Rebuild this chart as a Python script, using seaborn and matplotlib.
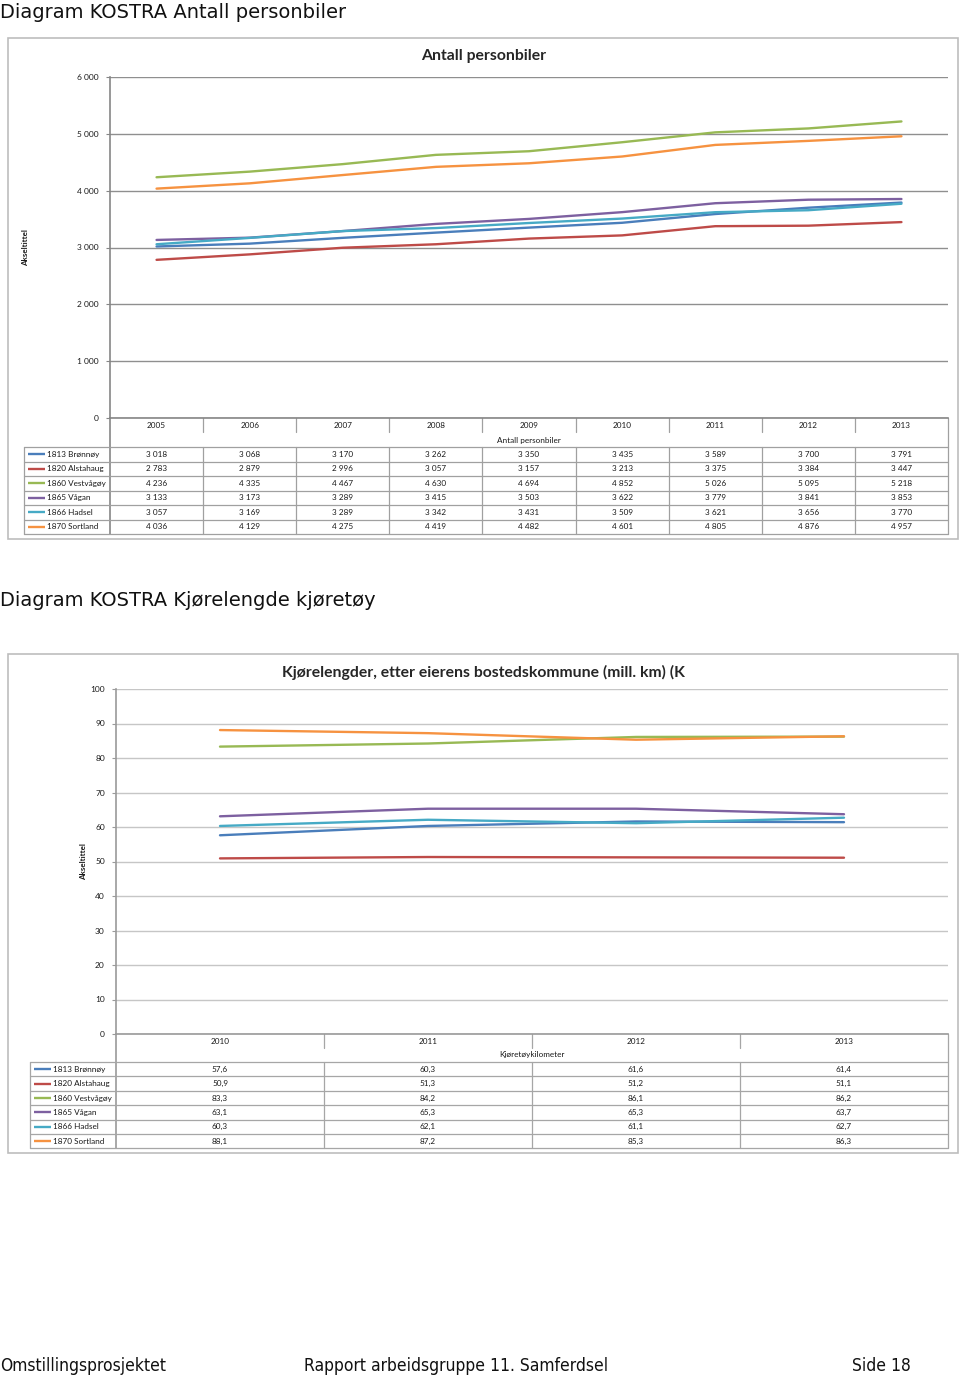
import numpy as np
import pandas as pd
import matplotlib
matplotlib.use("Agg")
import matplotlib.pyplot as plt
import seaborn as sns
from matplotlib import transforms, font_manager
from matplotlib.patches import Rectangle

# ---------------- data ----------------
series_names = ["1813 Brønnøy", "1820 Alstahaug", "1860 Vestvågøy",
                "1865 Vågan", "1866 Hadsel", "1870 Sortland"]
series_colors = ["#4A7EBB", "#BE4B48", "#98B954", "#7D60A0", "#46AAC5", "#F69240"]

years1 = ["2005", "2006", "2007", "2008", "2009", "2010", "2011", "2012", "2013"]
bronnoy1 = [3018, 3068, 3170, 3262, 3350, 3435, 3589, 3700, 3791]
alstahaug1 = [2783, 2879, 2996, 3057, 3157, 3213, 3375, 3384, 3447]
vestvagoy1 = [4236, 4335, 4467, 4630, 4694, 4852, 5026, 5095, 5218]
vagan1 = [3133, 3173, 3289, 3415, 3503, 3622, 3779, 3841, 3853]
hadsel1 = [3057, 3169, 3289, 3342, 3431, 3509, 3621, 3656, 3770]
sortland1 = [4036, 4129, 4275, 4419, 4482, 4601, 4805, 4876, 4957]

years2 = ["2010", "2011", "2012", "2013"]
bronnoy2 = [57.6, 60.3, 61.6, 61.4]
alstahaug2 = [50.9, 51.3, 51.2, 51.1]
vestvagoy2 = [83.3, 84.2, 86.1, 86.2]
vagan2 = [63.1, 65.3, 65.3, 63.7]
hadsel2 = [60.3, 62.1, 61.1, 62.7]
sortland2 = [88.1, 87.2, 85.3, 86.3]

yticks1 = [0, 1000, 2000, 3000, 4000, 5000, 6000]
yticks2 = [0, 10, 20, 30, 40, 50, 60, 70, 80, 90, 100]

# ---------------- page ----------------
sns.set_style("white")
plt.rcParams["font.family"] = ["DejaVu Sans"]

W, H = 960, 1376
fig = plt.figure(figsize=(9.6, 13.76), dpi=100)
fig.patch.set_facecolor("white")
ov = fig.add_axes([0, 0, 1, 1])
ov.set_xlim(0, W)
ov.set_ylim(H, 0)
ov.axis("off")

SMALL = ["Lato", "DejaVu Sans"]
TXT = "#1a1a1a"


def add_ax(l, t, r, b):
    return fig.add_axes([l / W, 1 - b / H, (r - l) / W, (b - t) / H])


def fmt_thousands(v):
    return f"{int(v):,}".replace(",", " ")


def fmt_comma(v):
    return f"{v:.1f}".replace(".", ",")


def draw_chart(frame, plot, title, title_xy, ylabel_x, cats, values, yticks,
               fmt, axis_title, header_y, axis_title_y, rows_top, row_h,
               leg_left, grid_color, spine_color, tbl_color):
    fl, ft, fr, fb = frame
    ov.add_patch(Rectangle((fl, ft), fr - fl, fb - ft, fill=False,
                           ec="#bdbdbd", lw=1.2))
    pl, pt, pr, pb = plot
    ax = add_ax(pl, pt, pr, pb)
    ax.set_facecolor("none")
    n = len(cats)
    rows = []
    for name, vals in zip(series_names, values):
        for i, v in enumerate(vals):
            rows.append({"series": name, "idx": i, "value": v})
    df = pd.DataFrame(rows)
    sns.lineplot(data=df, x="idx", y="value", hue="series",
                 hue_order=series_names, palette=series_colors,
                 estimator=None, sort=False, lw=1.7, legend=False, ax=ax)
    ax.set_xlim(-0.5, n - 0.5)
    ax.set_ylim(yticks[0], yticks[-1])
    ax.set_yticks(yticks)
    ax.set_yticklabels([fmt_thousands(t) if fmt is fmt_thousands else str(t)
                        for t in yticks], fontsize=6.0, family=SMALL, color=TXT)
    ax.set_xticks([])
    ax.set_xlabel("")
    ax.set_ylabel("")
    ax.grid(axis="y", color=grid_color, lw=1.0)
    ax.set_axisbelow(True)
    for s in ["top", "right"]:
        ax.spines[s].set_visible(False)
    for s in ["left", "bottom"]:
        ax.spines[s].set_color(spine_color)
        ax.spines[s].set_linewidth(1.2)
    ax.tick_params(axis="y", length=3, width=0.8, color=spine_color, pad=5,
                   left=True)

    # title and axis title
    ov.text(title_xy[0], title_xy[1], title, ha="center", va="center",
            fontsize=11.3, fontweight="bold", family=["Lato", "DejaVu Sans"],
            color="#262626")
    ov.text(ylabel_x, (pt + pb) / 2, "Akseltittel", rotation=90, ha="center",
            va="center", fontsize=5.8, fontweight="bold", family=SMALL, color=TXT)

    # data table
    bt = transforms.blended_transform_factory(ax.transData, ov.transData)
    rows_bot = rows_top + row_h * len(series_names)
    for i, c in enumerate(cats):
        ov.text(i, header_y, c, transform=bt, ha="center", va="center",
                fontsize=5.9, family=SMALL, color=TXT)
    for i in range(1, n):
        ov.plot([i - 0.5, i - 0.5], [pb, pb + 14], transform=bt,
                color=tbl_color, lw=0.9)
        ov.plot([i - 0.5, i - 0.5], [rows_top, rows_bot], transform=bt,
                color=tbl_color, lw=0.9)
    ov.plot([-0.5, -0.5], [pb, rows_bot], transform=bt, color=spine_color, lw=1.2)
    ov.plot([n - 0.5, n - 0.5], [pb, rows_bot], transform=bt,
            color=tbl_color, lw=0.9)
    ov.text((n - 1) / 2, axis_title_y, axis_title, transform=bt, ha="center",
            va="center", fontsize=5.9, family=SMALL, color=TXT)
    for k in range(len(series_names) + 1):
        y = rows_top + k * row_h
        ov.plot([leg_left, pr], [y, y], color=tbl_color, lw=0.9)
    ov.plot([leg_left, leg_left], [rows_top, rows_bot], color=tbl_color, lw=0.9)
    for k, (name, col, vals) in enumerate(zip(series_names, series_colors, values)):
        yc = rows_top + (k + 0.5) * row_h
        ov.plot([leg_left + 4, leg_left + 21], [yc, yc], color=col, lw=1.7,
                solid_capstyle="butt")
        ov.text(leg_left + 23, yc, name, ha="left", va="center", fontsize=5.9,
                family=SMALL, color=TXT)
        for i, v in enumerate(vals):
            ov.text(i, yc, fmt(v), transform=bt, ha="center", va="center",
                    fontsize=5.9, family=SMALL, color=TXT)
    return ax


# headings
ov.text(0, 12, "Diagram KOSTRA Antall personbiler", ha="left", va="center",
        fontsize=14, color="#111111")
ov.text(0, 601, "Diagram KOSTRA Kjørelengde kjøretøy", ha="left", va="center",
        fontsize=14, color="#111111")

draw_chart(frame=(8, 38, 958, 539), plot=(110, 77, 948, 418),
           title="Antall personbiler", title_xy=(484, 56), ylabel_x=26,
           cats=years1,
           values=[bronnoy1, alstahaug1, vestvagoy1, vagan1, hadsel1, sortland1],
           yticks=yticks1, fmt=fmt_thousands, axis_title="Antall personbiler",
           header_y=426, axis_title_y=440, rows_top=447, row_h=14.5,
           leg_left=24, grid_color="#8f8f8f", spine_color="#868686",
           tbl_color="#a0a0a0")

draw_chart(frame=(8, 654, 958, 1153), plot=(116, 689, 948, 1034),
           title="Kjørelengder, etter eierens bostedskommune (mill. km) (K",
           title_xy=(483, 672), ylabel_x=84,
           cats=years2,
           values=[bronnoy2, alstahaug2, vestvagoy2, vagan2, hadsel2, sortland2],
           yticks=yticks2, fmt=fmt_comma, axis_title="Kjøretøykilometer",
           header_y=1041, axis_title_y=1055, rows_top=1062, row_h=14.4,
           leg_left=30, grid_color="#c6c6c6", spine_color="#9a9a9a",
           tbl_color="#a6a6a6")

# footer: prefer a narrow face
_fonts = font_manager.fontManager.ttflist
_names = {f.name for f in _fonts}
foot_kw = dict(ha="left", va="center", color="#111111")
if "Liberation Sans Narrow" in _names:
    foot_kw.update(family=["Liberation Sans Narrow"], fontsize=13)
elif any(f.name == "DejaVu Sans" and str(f.stretch) in ("condensed", "semi-condensed")
         for f in _fonts):
    foot_kw.update(family=["DejaVu Sans"], fontstretch="condensed", fontsize=12.5)
else:
    foot_kw.update(family=["DejaVu Sans"], fontsize=11.3)

ov.text(0, 1366, "Omstillingsprosjektet", **foot_kw)
ov.text(304, 1366, "Rapport arbeidsgruppe 11. Samferdsel", **foot_kw)
ov.text(852, 1366, "Side 18", **foot_kw)

fig.savefig("out.png", dpi=100, facecolor="white")
